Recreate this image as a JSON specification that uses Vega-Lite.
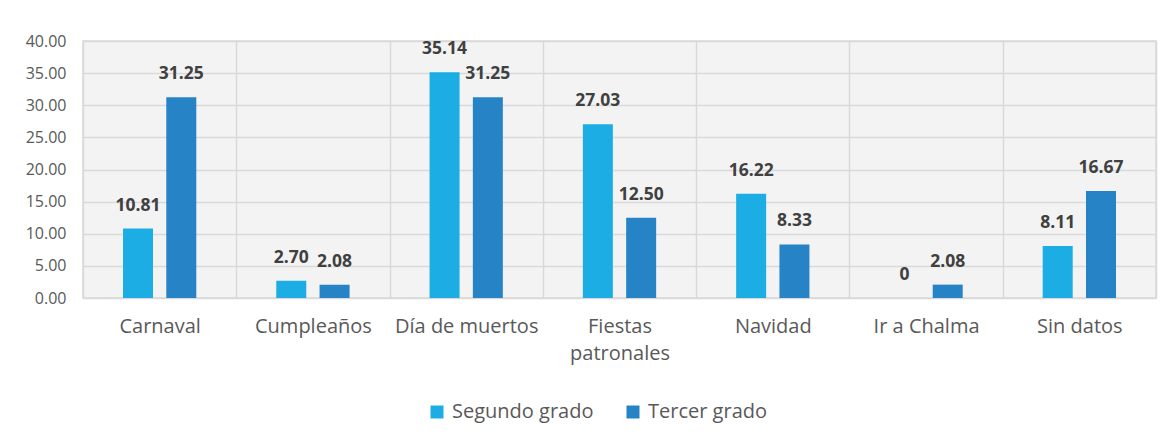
{
  "$schema": "https://vega.github.io/schema/vega-lite/v6.json",
  "width": 1073,
  "height": 257,
  "autosize": {"type": "none"},
  "padding": {"left": 83, "top": 41, "right": 14, "bottom": 145},
  "background": "white",
  "config": {
    "font": "Open Sans",
    "view": {"stroke": "#d9d9d9", "strokeWidth": 1.5, "fill": "#f3f3f3"}
  },
  "data": {
    "values": [
      {"categoria": "Carnaval", "serie": "Segundo grado", "valor": 10.81, "etiqueta": "10.81"},
      {"categoria": "Carnaval", "serie": "Tercer grado", "valor": 31.25, "etiqueta": "31.25"},
      {"categoria": "Cumpleaños", "serie": "Segundo grado", "valor": 2.70, "etiqueta": "2.70"},
      {"categoria": "Cumpleaños", "serie": "Tercer grado", "valor": 2.08, "etiqueta": "2.08"},
      {"categoria": "Día de muertos", "serie": "Segundo grado", "valor": 35.14, "etiqueta": "35.14"},
      {"categoria": "Día de muertos", "serie": "Tercer grado", "valor": 31.25, "etiqueta": "31.25"},
      {"categoria": "Fiestas patronales", "serie": "Segundo grado", "valor": 27.03, "etiqueta": "27.03"},
      {"categoria": "Fiestas patronales", "serie": "Tercer grado", "valor": 12.50, "etiqueta": "12.50"},
      {"categoria": "Navidad", "serie": "Segundo grado", "valor": 16.22, "etiqueta": "16.22"},
      {"categoria": "Navidad", "serie": "Tercer grado", "valor": 8.33, "etiqueta": "8.33"},
      {"categoria": "Ir a Chalma", "serie": "Segundo grado", "valor": 0, "etiqueta": "0"},
      {"categoria": "Ir a Chalma", "serie": "Tercer grado", "valor": 2.08, "etiqueta": "2.08"},
      {"categoria": "Sin datos", "serie": "Segundo grado", "valor": 8.11, "etiqueta": "8.11"},
      {"categoria": "Sin datos", "serie": "Tercer grado", "valor": 16.67, "etiqueta": "16.67"}
    ]
  },
  "encoding": {
    "x": {
      "field": "categoria",
      "type": "nominal",
      "sort": ["Carnaval", "Cumpleaños", "Día de muertos", "Fiestas patronales", "Navidad", "Ir a Chalma", "Sin datos"],
      "scale": {"paddingInner": 0, "paddingOuter": 0},
      "axis": {
        "title": null,
        "labelAngle": 0,
        "labelFontSize": 20,
        "labelColor": "#595959",
        "labelPadding": 18,
        "labelLineHeight": 27,
        "ticks": false,
        "domain": false,
        "grid": true,
        "tickBand": "extent",
        "gridColor": "#d9d9d9",
        "gridWidth": 1.5,
        "labelExpr": "datum.value == 'Fiestas patronales' ? ['Fiestas', 'patronales'] : datum.value"
      }
    },
    "xOffset": {
      "field": "serie",
      "type": "nominal",
      "scale": {"paddingInner": 0.307, "paddingOuter": 0.924}
    },
    "y": {
      "field": "valor",
      "type": "quantitative",
      "scale": {"domain": [0, 40], "nice": false},
      "axis": {
        "title": null,
        "values": [0, 5, 10, 15, 20, 25, 30, 35, 40],
        "format": ".2f",
        "labelFontSize": 16,
        "labelColor": "#595959",
        "labelPadding": 17,
        "ticks": false,
        "domain": false,
        "gridColor": "#d9d9d9",
        "gridWidth": 1.5
      }
    }
  },
  "layer": [
    {
      "mark": {"type": "bar"},
      "encoding": {
        "color": {
          "field": "serie",
          "type": "nominal",
          "scale": {"domain": ["Segundo grado", "Tercer grado"], "range": ["#1CADE4", "#2683C6"]},
          "legend": {
            "title": null,
            "orient": "none",
            "direction": "horizontal",
            "legendX": 344,
            "legendY": 361,
            "labelFontSize": 20,
            "labelColor": "#595959",
            "symbolType": "square",
            "symbolSize": 169,
            "symbolStrokeWidth": 0,
            "labelOffset": 5,
            "columnPadding": 29
          }
        }
      }
    },
    {
      "mark": {"type": "text", "baseline": "middle", "dy": -23, "fontWeight": "bold", "fontSize": 17.5, "color": "#404040"},
      "encoding": {"text": {"field": "etiqueta"}}
    }
  ]
}
